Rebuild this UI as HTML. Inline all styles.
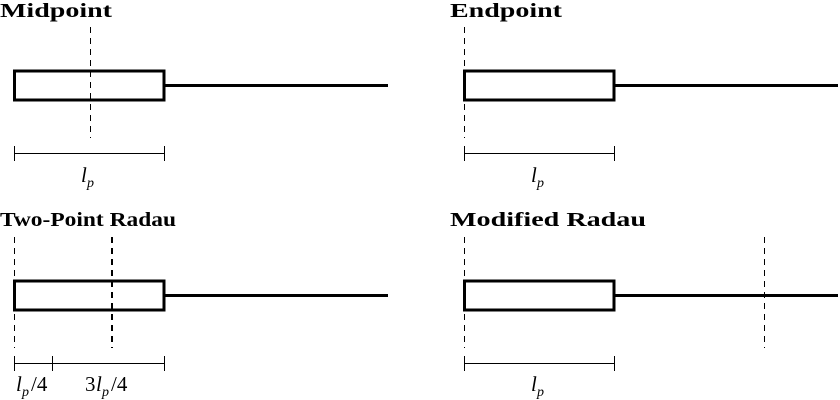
<!DOCTYPE html>
<html><head><style>
html,body{margin:0;padding:0;background:#fff;}
svg{display:block;}
.t{font-family:"Liberation Serif",serif;font-weight:bold;font-size:20px;}
.m{font-family:"Liberation Serif",serif;font-style:italic;font-size:21px;}
.n{font-family:"Liberation Serif",serif;font-size:21px;}
.s{font-family:"Liberation Serif",serif;font-style:italic;font-size:14px;}
</style></head><body>
<svg width="840" height="400" viewBox="0 0 840 400" xmlns="http://www.w3.org/2000/svg">
<g fill="none" stroke="#000">
 <rect x="14.5" y="71" width="149.5" height="29" stroke-width="3"/>
 <line x1="164" y1="85.5" x2="388" y2="85.5" stroke-width="3"/>
 <line x1="90.5" y1="27" x2="90.5" y2="138" stroke-width="1" stroke-dasharray="6,5"/>
 <line x1="14" y1="153.5" x2="164" y2="153.5" stroke-width="1"/>
 <line x1="14.5" y1="146" x2="14.5" y2="161" stroke-width="1"/>
 <line x1="164.5" y1="146" x2="164.5" y2="161" stroke-width="1"/>
 <rect x="464.5" y="71" width="149.5" height="29" stroke-width="3"/>
 <line x1="614" y1="85.5" x2="838" y2="85.5" stroke-width="3"/>
 <line x1="464.5" y1="27" x2="464.5" y2="138" stroke-width="1" stroke-dasharray="6,5"/>
 <line x1="464" y1="153.5" x2="614" y2="153.5" stroke-width="1"/>
 <line x1="464.5" y1="146" x2="464.5" y2="161" stroke-width="1"/>
 <line x1="614.5" y1="146" x2="614.5" y2="161" stroke-width="1"/>
 <rect x="14.5" y="281" width="149.5" height="29" stroke-width="3"/>
 <line x1="164" y1="295.5" x2="388" y2="295.5" stroke-width="3"/>
 <line x1="14.5" y1="237" x2="14.5" y2="348" stroke-width="1" stroke-dasharray="6,5"/>
 <line x1="112" y1="237" x2="112" y2="348" stroke-width="2" stroke-dasharray="6,5"/>
 <line x1="14" y1="363.5" x2="164" y2="363.5" stroke-width="1"/>
 <line x1="14.5" y1="356" x2="14.5" y2="371" stroke-width="1"/>
 <line x1="52.5" y1="356" x2="52.5" y2="371" stroke-width="1"/>
 <line x1="164.5" y1="356" x2="164.5" y2="371" stroke-width="1"/>
 <rect x="464.5" y="281" width="149.5" height="29" stroke-width="3"/>
 <line x1="614" y1="295.5" x2="838" y2="295.5" stroke-width="3"/>
 <line x1="464.5" y1="237" x2="464.5" y2="348" stroke-width="1" stroke-dasharray="6,5"/>
 <line x1="764.5" y1="237" x2="764.5" y2="348" stroke-width="1" stroke-dasharray="6,5"/>
 <line x1="464" y1="363.5" x2="614" y2="363.5" stroke-width="1"/>
 <line x1="464.5" y1="356" x2="464.5" y2="371" stroke-width="1"/>
 <line x1="614.5" y1="356" x2="614.5" y2="371" stroke-width="1"/>
</g>
<g fill="#000">
 <text class="t" x="0" y="17" textLength="112" lengthAdjust="spacingAndGlyphs">Midpoint</text>
 <text class="t" x="450" y="17" textLength="112" lengthAdjust="spacingAndGlyphs">Endpoint</text>
 <text class="t" x="0" y="226" textLength="176" lengthAdjust="spacingAndGlyphs">Two-Point Radau</text>
 <text class="t" x="450" y="226" textLength="196" lengthAdjust="spacingAndGlyphs">Modified Radau</text>
 <text class="m" x="81" y="182">l</text><text class="s" x="87" y="187">p</text>
 <text class="m" x="531" y="182">l</text><text class="s" x="537" y="187">p</text>
 <text class="m" x="531" y="391">l</text><text class="s" x="537" y="396">p</text>
 <text class="m" x="16" y="391">l</text><text class="s" x="22" y="396">p</text><text class="n" x="31" y="391">/4</text>
 <text class="n" x="85" y="391">3</text><text class="m" x="96" y="391">l</text><text class="s" x="102" y="396">p</text><text class="n" x="111" y="391">/4</text>
</g>
</svg>
</body></html>
